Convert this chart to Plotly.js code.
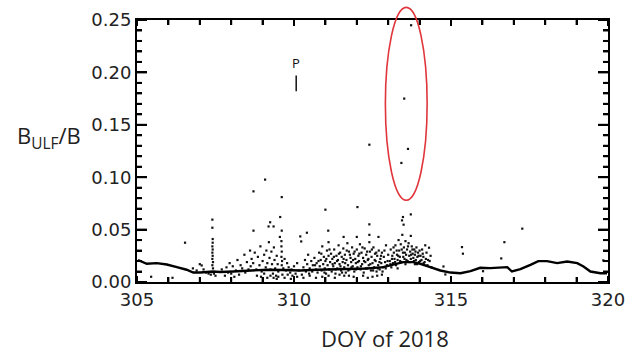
<!DOCTYPE html>
<html>
<head>
<meta charset="utf-8">
<script src="https://cdn.plot.ly/plotly-3.0.1.min.js"></script>
<style>
  html, body { margin: 0; padding: 0; background: #fff; }
  #chart { width: 639px; height: 352px; }
</style>
</head>
<body>
<div id="chart"></div>
<script>
// Background level of B_ULF/B (smoothed trace)
const bgDay = [305.03, 305.31, 305.63, 305.95, 306.27, 306.58, 306.79, 307.01, 307.42, 307.65,
  308.06, 308.60, 309.13, 309.65, 310.20, 310.73, 311.25, 311.79, 312.32, 312.84,
  313.16, 313.48, 313.80, 314.02, 314.34, 314.66, 314.98, 315.30, 315.62, 315.93,
  316.25, 316.57, 316.79, 316.94, 317.21, 317.53, 317.78, 318.06, 318.38, 318.70,
  319.02, 319.22, 319.44, 319.76, 319.97];
const bgRatio = [0.0210, 0.0174, 0.0180, 0.0167, 0.0142, 0.0117, 0.0090, 0.0090, 0.0100, 0.0096,
  0.0100, 0.0110, 0.0117, 0.0114, 0.0110, 0.0117, 0.0122, 0.0129, 0.0129, 0.0142,
  0.0164, 0.0190, 0.0190, 0.0174, 0.0142, 0.0110, 0.0090, 0.0084, 0.0103, 0.0136,
  0.0132, 0.0136, 0.0142, 0.0100, 0.0122, 0.0164, 0.0199, 0.0199, 0.0180, 0.0196,
  0.0180, 0.0148, 0.0100, 0.0084, 0.0084];

// Individual wave-event samples
const evDay = [
  305.45, 306.13, 306.53, 306.78, 306.90, 307.00, 307.06, 307.12, 307.20, 307.28,
  307.40, 307.40, 307.41, 307.41, 307.40, 307.41, 307.40, 307.41, 307.40, 307.42,
  307.40, 307.42, 307.45, 307.50, 307.35,
  307.70, 307.80, 307.90, 307.95, 308.00, 308.05, 308.15, 308.20, 308.25, 308.30,
  308.35, 308.42, 308.45, 308.50, 308.55, 308.60, 308.62, 307.85, 308.10,
  308.71, 309.08, 309.61, 309.56, 309.24, 309.19, 309.35, 308.71, 309.61,
  308.65, 308.70, 308.75, 308.80, 308.85, 308.90, 308.93, 308.97, 309.00, 309.05,
  309.10, 309.12, 309.15, 309.20, 309.22, 309.25, 309.28, 309.30, 309.33, 309.36,
  309.38, 309.40, 309.43, 309.45, 309.48, 309.50, 309.55, 309.60, 309.60, 309.61,
  309.60, 309.62, 309.61, 309.63, 309.66, 309.70, 309.74, 309.78, 309.80, 309.83,
  309.35, 309.50, 309.25,
  309.88, 309.92, 309.95, 310.00, 310.05, 310.10, 310.15, 310.20, 310.23, 310.25,
  310.30, 310.35, 310.38, 310.41, 310.42, 310.45, 310.48, 310.50, 310.55, 310.58,
  310.60,
  311.00, 311.09, 311.58, 312.00, 312.02, 312.40, 312.40, 312.69, 312.40,
  310.65, 310.70, 310.72, 310.75, 310.80, 310.82, 310.85, 310.88, 310.90, 310.93,
  310.95, 310.98, 311.00, 311.02, 311.05, 311.07, 311.10, 311.10, 311.12, 311.15,
  311.18, 311.20, 311.22, 311.25, 311.28, 311.30, 311.32, 311.35, 311.38, 311.40,
  311.42, 311.45, 311.47, 311.50, 311.52, 311.55, 311.57, 311.60, 311.62, 311.65,
  311.67, 311.70, 311.72, 311.75, 311.77, 311.80, 311.82, 311.85, 311.87, 311.90,
  311.92, 311.95, 311.97, 312.00, 312.02, 312.05, 312.07, 312.10, 312.12, 312.15,
  312.17, 312.20, 312.22, 312.25, 312.27, 312.30, 312.32, 312.35, 312.38, 312.40,
  312.42, 312.45, 312.47, 312.50, 312.53, 312.55, 312.58, 312.60, 312.63, 312.65,
  312.68, 312.70, 312.73, 312.75, 312.78, 312.80, 312.83, 312.86, 312.90, 312.93,
  312.96, 313.00,
  310.90, 311.30, 311.60, 311.90, 312.20, 312.50, 312.80, 311.10, 312.35, 312.65,
  311.45, 311.75,
  313.73, 313.51, 313.63, 313.42, 313.72, 313.47, 313.44, 313.49, 313.72,
  313.05, 313.08, 313.10, 313.13, 313.15, 313.18, 313.20, 313.23, 313.25, 313.28,
  313.30, 313.33, 313.35, 313.37, 313.40, 313.42, 313.45, 313.47, 313.50, 313.52,
  313.55, 313.57, 313.60, 313.62, 313.65, 313.67, 313.70, 313.72, 313.75, 313.78,
  313.80, 313.83, 313.85, 313.88, 313.90, 313.93, 313.95, 313.98, 314.00, 314.03,
  314.06, 314.10, 314.13, 314.18, 314.20, 314.25, 314.30, 314.32, 314.38, 313.55,
  313.85, 313.30,
  314.76, 314.82, 315.35, 315.38, 316.02, 316.60, 316.70, 317.27, 319.85
];
const evRatio = [
  0.0050, 0.0040, 0.0375, 0.0130, 0.0110, 0.0170, 0.0158, 0.0120, 0.0090, 0.0080,
  0.0595, 0.0518, 0.0410, 0.0375, 0.0340, 0.0310, 0.0280, 0.0250, 0.0220, 0.0190,
  0.0160, 0.0130, 0.0080, 0.0060, 0.0070,
  0.0120, 0.0060, 0.0090, 0.0180, 0.0080, 0.0150, 0.0110, 0.0210, 0.0070, 0.0160,
  0.0130, 0.0260, 0.0090, 0.0190, 0.0120, 0.0300, 0.0150, 0.0140, 0.0050,
  0.0865, 0.0977, 0.0810, 0.0620, 0.0570, 0.0530, 0.0530, 0.0490, 0.0490,
  0.0220, 0.0180, 0.0280, 0.0120, 0.0240, 0.0160, 0.0340, 0.0100, 0.0200, 0.0260,
  0.0140, 0.0300, 0.0180, 0.0380, 0.0230, 0.0120, 0.0290, 0.0170, 0.0080, 0.0330,
  0.0210, 0.0130, 0.0060, 0.0250, 0.0170, 0.0100, 0.0430, 0.0390, 0.0340, 0.0290,
  0.0240, 0.0200, 0.0160, 0.0070, 0.0130, 0.0220, 0.0110, 0.0180, 0.0070, 0.0140,
  0.0040, 0.0050, 0.0060,
  0.0090, 0.0120, 0.0060, 0.0150, 0.0080, 0.0180, 0.0110, 0.0435, 0.0387, 0.0070,
  0.0140, 0.0210, 0.0100, 0.0470, 0.0170, 0.0260, 0.0080, 0.0130, 0.0200, 0.0100,
  0.0160,
  0.0690, 0.0490, 0.0430, 0.0430, 0.0715, 0.0550, 0.0450, 0.0430, 0.1310,
  0.0230, 0.0120, 0.0180, 0.0090, 0.0280, 0.0150, 0.0210, 0.0110, 0.0340, 0.0170,
  0.0240, 0.0130, 0.0200, 0.0080, 0.0300, 0.0160, 0.0380, 0.0250, 0.0120, 0.0190,
  0.0270, 0.0100, 0.0220, 0.0150, 0.0310, 0.0180, 0.0080, 0.0250, 0.0130, 0.0210,
  0.0350, 0.0170, 0.0280, 0.0110, 0.0240, 0.0190, 0.0320, 0.0140, 0.0260, 0.0090,
  0.0210, 0.0370, 0.0160, 0.0290, 0.0120, 0.0230, 0.0190, 0.0330, 0.0150, 0.0270,
  0.0100, 0.0220, 0.0180, 0.0310, 0.0140, 0.0250, 0.0200, 0.0360, 0.0120, 0.0280,
  0.0170, 0.0230, 0.0090, 0.0320, 0.0190, 0.0260, 0.0130, 0.0210, 0.0160, 0.0380,
  0.0290, 0.0110, 0.0240, 0.0180, 0.0330, 0.0140, 0.0270, 0.0200, 0.0100, 0.0250,
  0.0160, 0.0300, 0.0120, 0.0220, 0.0180, 0.0280, 0.0140, 0.0240, 0.0190, 0.0350,
  0.0160, 0.0260,
  0.0050, 0.0040, 0.0060, 0.0050, 0.0060, 0.0050, 0.0070, 0.0060, 0.0040, 0.0060,
  0.0070, 0.0060,
  0.2450, 0.1750, 0.1270, 0.1136, 0.0645, 0.0620, 0.0588, 0.0547, 0.0440,
  0.0200, 0.0310, 0.0140, 0.0250, 0.0180, 0.0280, 0.0220, 0.0350, 0.0160, 0.0260,
  0.0210, 0.0400, 0.0300, 0.0240, 0.0360, 0.0190, 0.0450, 0.0280, 0.0330, 0.0220,
  0.0390, 0.0260, 0.0310, 0.0200, 0.0370, 0.0250, 0.0290, 0.0220, 0.0340, 0.0270,
  0.0230, 0.0310, 0.0260, 0.0210, 0.0330, 0.0240, 0.0280, 0.0190, 0.0300, 0.0250,
  0.0210, 0.0270, 0.0180, 0.0350, 0.0220, 0.0160, 0.0327, 0.0200, 0.0140, 0.0170,
  0.0170, 0.0130,
  0.0148, 0.0072, 0.0333, 0.0270, 0.0103, 0.0225, 0.0380, 0.0509, 0.0206
];

// Further samples in the busy stretch DOY 308.8 - 314.4
const denseDay = [
  308.82, 308.95, 309.05, 309.15, 309.45, 309.70, 309.90, 310.10, 310.30, 310.50,
  310.70,
  310.67, 310.78, 310.87, 310.97, 311.03, 311.13, 311.23, 311.27, 311.33, 311.37,
  311.43, 311.48, 311.53, 311.58, 311.63, 311.68, 311.73, 311.78, 311.83, 311.88,
  311.93, 311.98, 312.03, 312.08, 312.13, 312.18, 312.23, 312.28, 312.33, 312.37,
  312.43, 312.48, 312.52, 312.57, 312.62, 312.67, 312.72, 312.77, 312.82, 312.88,
  312.92, 312.98,
  313.07, 313.12, 313.17, 313.22, 313.27, 313.32, 313.38, 313.43, 313.48, 313.53,
  313.58, 313.63, 313.68, 313.73, 313.77, 313.82, 313.87, 313.92, 313.97, 314.02,
  314.08, 314.12, 314.16, 314.22, 314.27, 314.35
];
const denseRatio = [
  0.0060, 0.0050, 0.0080, 0.0040, 0.0030, 0.0040, 0.0030, 0.0050, 0.0040, 0.0060,
  0.0040,
  0.0160, 0.0200, 0.0270, 0.0090, 0.0220, 0.0310, 0.0170, 0.0240, 0.0120, 0.0200,
  0.0270, 0.0150, 0.0090, 0.0220, 0.0180, 0.0300, 0.0110, 0.0260, 0.0140, 0.0210,
  0.0290, 0.0120, 0.0190, 0.0270, 0.0150, 0.0330, 0.0200, 0.0130, 0.0290, 0.0220,
  0.0170, 0.0310, 0.0110, 0.0210, 0.0280, 0.0130, 0.0190, 0.0250, 0.0100, 0.0300,
  0.0130, 0.0200,
  0.0170, 0.0220, 0.0330, 0.0190, 0.0300, 0.0250, 0.0200, 0.0310, 0.0240, 0.0280,
  0.0210, 0.0340, 0.0190, 0.0260, 0.0310, 0.0200, 0.0290, 0.0170, 0.0250, 0.0200,
  0.0310, 0.0240, 0.0190, 0.0280, 0.0210, 0.0250
];

// Axis ticks: labelled every 5 days / 0.05, minor marks every day / 0.01
const xMajorStep = 5, xMinorStep = 1;
const yMajorStep = 0.05, yMinorStep = 0.01;

// Event marker near DOY 310 and the highlighted interval around DOY 313.6
const markDay = 310.07;
const markTop = 0.197, markBottom = 0.182, markLabelY = 0.209;
const ringDay = [312.91, 314.24];
const ringRatio = [0.078, 0.262];

const xRange = [305, 320];
const yRange = [0, 0.25];
const toPaperX = d => (d - xRange[0]) / (xRange[1] - xRange[0]);
const toPaperY = v => (v - yRange[0]) / (yRange[1] - yRange[0]);

// Tick labels take the global font
const baseFont = { family: 'DejaVu Sans, sans-serif', size: 18, color: '#222' };

// Inside tick marks on all four sides of the frame, drawn as pixel-length
// line shapes anchored to the axis values
const tickLine = { color: '#000', width: 2 };
const tickShapes = [];
const nDays = Math.round((xRange[1] - xRange[0]) / xMinorStep);
for (let i = 0; i <= nDays; i++) {
  const d = xRange[0] + i * xMinorStep;
  const len = (i % Math.round(xMajorStep / xMinorStep) === 0) ? 6 : 5;
  tickShapes.push({ type: 'line', xref: 'x', yref: 'y', layer: 'above', x0: d, x1: d,
    ysizemode: 'pixel', yanchor: yRange[0], y0: 0, y1: len, line: tickLine });
  tickShapes.push({ type: 'line', xref: 'x', yref: 'y', layer: 'above', x0: d, x1: d,
    ysizemode: 'pixel', yanchor: yRange[1], y0: 0, y1: -len, line: tickLine });
}
const nSteps = Math.round((yRange[1] - yRange[0]) / yMinorStep);
for (let i = 0; i <= nSteps; i++) {
  const v = yRange[0] + i * yMinorStep;
  const len = (i % Math.round(yMajorStep / yMinorStep) === 0) ? 10 : 5;
  tickShapes.push({ type: 'line', xref: 'x', yref: 'y', layer: 'above', y0: v, y1: v,
    xsizemode: 'pixel', xanchor: xRange[0], x0: 0, x1: len, line: tickLine });
  tickShapes.push({ type: 'line', xref: 'x', yref: 'y', layer: 'above', y0: v, y1: v,
    xsizemode: 'pixel', xanchor: xRange[1], x0: 0, x1: -len, line: tickLine });
}

const traces = [
  {
    x: evDay.concat(denseDay), y: evRatio.concat(denseRatio),
    type: 'scatter', mode: 'markers',
    marker: { symbol: 'square', size: 2.2, color: '#111' },
    hoverinfo: 'x+y', showlegend: false
  },
  {
    x: bgDay, y: bgRatio, type: 'scatter', mode: 'lines',
    line: { color: '#000', width: 2.4 },
    hoverinfo: 'skip', showlegend: false
  }
];

const layout = {
  width: 639, height: 352,
  margin: { l: 137, r: 31, t: 20, b: 70 },
  font: baseFont,
  showlegend: false,
  xaxis: {
    range: xRange, dtick: xMajorStep,
    showgrid: false, zeroline: false, showline: true, linecolor: '#000', linewidth: 2,
    mirror: 'ticks', ticks: 'inside', ticklen: 6, tickwidth: 2, tickcolor: '#000',
    minor: { dtick: xMinorStep, ticks: 'inside', ticklen: 5, tickwidth: 2, tickcolor: '#000' }
  },
  yaxis: {
    range: yRange, dtick: yMajorStep, tickformat: '.2f',
    showgrid: false, zeroline: false, showline: true, linecolor: '#000', linewidth: 2,
    mirror: 'ticks', ticks: 'inside', ticklen: 10, tickwidth: 2, tickcolor: '#000',
    minor: { dtick: yMinorStep, ticks: 'inside', ticklen: 5, tickwidth: 2, tickcolor: '#000' }
  },
  shapes: tickShapes.concat([
    {
      type: 'circle', xref: 'paper', yref: 'paper', layer: 'above',
      x0: toPaperX(ringDay[0]), x1: toPaperX(ringDay[1]),
      y0: toPaperY(ringRatio[0]), y1: toPaperY(ringRatio[1]),
      line: { color: '#e0353b', width: 1.6 }
    },
    {
      type: 'line', xref: 'x', yref: 'y',
      x0: markDay, x1: markDay, y0: markBottom, y1: markTop,
      line: { color: '#111', width: 1.5 }
    }
  ]),
  annotations: [
    {
      text: 'P', x: markDay, y: markLabelY, xref: 'x', yref: 'y',
      showarrow: false, font: { family: 'Open Sans, sans-serif', size: 13, color: '#111' }
    },
    {
      text: 'B<sub>ULF</sub>/B', xref: 'paper', yref: 'paper',
      x: -0.26, y: 0.553, xanchor: 'left', yanchor: 'middle', showarrow: false,
      font: { family: 'Open Sans, sans-serif', size: 22, color: '#222' }
    },
    {
      text: 'DOY of 2018', xref: 'paper', yref: 'paper',
      x: 0.5276, y: -0.215, xanchor: 'center', yanchor: 'middle', showarrow: false,
      font: { family: 'Open Sans, sans-serif', size: 22, color: '#222' }
    }
  ]
};

Plotly.newPlot('chart', traces, layout, { displayModeBar: false });
</script>
</body>
</html>
